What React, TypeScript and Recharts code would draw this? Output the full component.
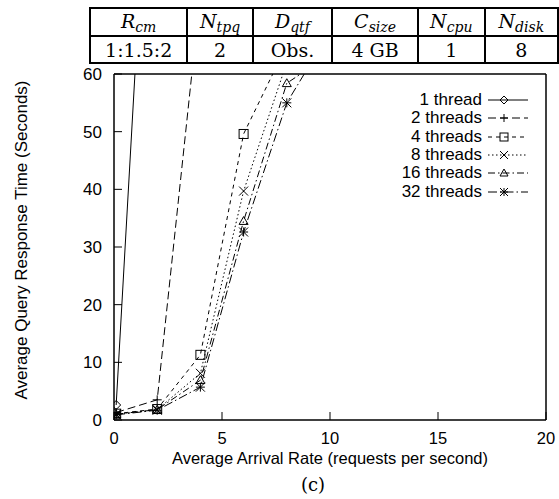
import React from "react";
import { Legend, Line, LineChart, XAxis, YAxis } from "recharts";

// arrival rates (requests per second) at which every run was measured
const rates = [0.1, 2, 4, 6, 8, 10];

// average response time (s) per thread count; values above 60 run off the plot
const oneThread = [2.6, 128];
const twoThreads = [1.3, 3.5, 74];
const fourThreads = [1.1, 1.9, 11.3, 49.6, 65];
const eightThreads = [1.0, 1.8, 8.1, 39.7, 62];
const sixteenThreads = [1.0, 1.8, 6.9, 34.5, 58.4, 63.4];
const thirtyTwoThreads = [0.9, 1.7, 5.7, 32.6, 55, 67.4];

const xTicks = [0, 5, 10, 15, 20];
const yTicks = [0, 10, 20, 30, 40, 50, 60];

// experiment parameters shown above the plot
const paramNames = [
  ["R", "cm"],
  ["N", "tpq"],
  ["D", "qtf"],
  ["C", "size"],
  ["N", "cpu"],
  ["N", "disk"],
];
const paramValues = ["1:1.5:2", "2", "Obs.", "4 GB", "1", "8"];
const colWidths = [96, 64, 78, 85, 65, 72];

type Shape = "diamond" | "plus" | "square" | "cross" | "triangle" | "star";

const series: { key: string; name: string; dash: string; shape: Shape }[] = [
  { key: "t1", name: "1 thread", dash: "", shape: "diamond" },
  { key: "t2", name: "2 threads", dash: "8 4", shape: "plus" },
  { key: "t4", name: "4 threads", dash: "4 4", shape: "square" },
  { key: "t8", name: "8 threads", dash: "1.5 2.5", shape: "cross" },
  { key: "t16", name: "16 threads", dash: "7 3 1.5 3", shape: "triangle" },
  { key: "t32", name: "32 threads", dash: "9 3 1.5 3", shape: "star" },
];

const data = rates.map((rate, i) => ({
  rate,
  t1: oneThread[i],
  t2: twoThreads[i],
  t4: fourThreads[i],
  t8: eightThreads[i],
  t16: sixteenThreads[i],
  t32: thirtyTwoThreads[i],
}));

const SANS = "'Liberation Sans', Arial, Helvetica, sans-serif";
const SERIF = "'DejaVu Serif', 'Liberation Serif', serif";

function Marker({ shape, cx, cy, s = 4.5 }: { shape: Shape; cx: number; cy: number; s?: number }) {
  const st = { stroke: "#000", strokeWidth: 1, fill: "none", strokeDasharray: "none" };
  const plus = `M${cx - s},${cy}H${cx + s}M${cx},${cy - s}V${cy + s}`;
  const cross = `M${cx - s},${cy - s}L${cx + s},${cy + s}M${cx - s},${cy + s}L${cx + s},${cy - s}`;
  switch (shape) {
    case "diamond":
      return <polygon points={`${cx},${cy - s} ${cx + s},${cy} ${cx},${cy + s} ${cx - s},${cy}`} {...st} />;
    case "plus":
      return <path d={plus} {...st} />;
    case "square":
      return <rect x={cx - s} y={cy - s} width={2 * s} height={2 * s} {...st} />;
    case "cross":
      return <path d={cross} {...st} />;
    case "triangle":
      return <polygon points={`${cx},${cy - s} ${cx + s},${cy + s * 0.75} ${cx - s},${cy + s * 0.75}`} {...st} />;
    default:
      return <path d={plus + cross} {...st} />;
  }
}

function ThreadLegend() {
  return (
    <div style={{ fontFamily: SANS, fontSize: 17, color: "#000" }}>
      {series.map((s) => (
        <div key={s.key} style={{ display: "flex", alignItems: "center", height: 18.3 }}>
          <span style={{ width: 112, textAlign: "right", lineHeight: "18px" }}>{s.name}</span>
          <svg width={46} height={18} style={{ marginLeft: 5 }}>
            <line x1={1} y1={9} x2={41} y2={9} stroke="#000" strokeWidth={1} strokeDasharray={s.dash || undefined} />
            <Marker shape={s.shape} cx={17} cy={9} s={4} />
          </svg>
        </div>
      ))}
    </div>
  );
}

function ParamTable() {
  const cell = { border: "2px solid #000", padding: 0, textAlign: "center" as const, height: 25 };
  return (
    <table
      style={{
        position: "absolute",
        left: 89,
        top: 7,
        borderCollapse: "collapse",
        fontFamily: SERIF,
        fontSize: 19,
        lineHeight: "24px",
        tableLayout: "fixed",
      }}
    >
      <tbody>
        <tr>
          {paramNames.map(([base, sub], i) => (
            <td key={i} style={{ ...cell, width: colWidths[i], fontStyle: "italic" }}>
              {base}
              <span style={{ fontSize: 14, position: "relative", top: 4 }}>{sub}</span>
            </td>
          ))}
        </tr>
        <tr>
          {paramValues.map((v, i) => (
            <td key={i} style={cell}>
              {v}
            </td>
          ))}
        </tr>
      </tbody>
    </table>
  );
}

export default function App() {
  const yTickStyle = { fontSize: 17, fill: "#000", fontFamily: SANS };
  const xTickStyle = { fontSize: 16.5, fill: "#000", fontFamily: SANS };
  const axisLine = { stroke: "#000", strokeWidth: 1.5 };
  return (
    <div style={{ position: "absolute", left: 0, top: 0, width: 559, height: 499, background: "#fff" }}>
      <ParamTable />
      <div style={{ position: "absolute", left: 0, top: 0 }}>
        <LineChart width={559} height={499} data={data} margin={{ top: 64, right: 3, bottom: 49, left: 54 }}>
          <XAxis
            dataKey="rate"
            type="number"
            domain={[0, 20]}
            ticks={xTicks}
            allowDataOverflow
            height={30}
            tickSize={-8}
            tickMargin={20}
            tick={xTickStyle}
            tickLine={{ stroke: "#000" }}
            axisLine={axisLine}
          />
          <XAxis
            xAxisId="top"
            orientation="top"
            type="number"
            domain={[0, 20]}
            ticks={xTicks}
            height={10}
            tickSize={-8}
            tick={false}
            tickLine={{ stroke: "#000" }}
            axisLine={axisLine}
          />
          <YAxis
            type="number"
            domain={[0, 60]}
            ticks={yTicks}
            allowDataOverflow
            width={60}
            tickSize={-8}
            tickMargin={20}
            tick={yTickStyle}
            tickLine={{ stroke: "#000" }}
            axisLine={axisLine}
          />
          <YAxis
            yAxisId="right"
            orientation="right"
            type="number"
            domain={[0, 60]}
            ticks={yTicks}
            width={10}
            tickSize={-8}
            tick={false}
            tickLine={{ stroke: "#000" }}
            axisLine={axisLine}
          />
          <Legend
            layout="horizontal"
            verticalAlign="middle"
            align="center"
            wrapperStyle={{ left: 370, top: 91, width: 170 }}
            content={() => <ThreadLegend />}
          />
          {series.map((s) => (
            <Line
              key={s.key}
              dataKey={s.key}
              name={s.name}
              type="linear"
              stroke="#000"
              strokeWidth={1}
              strokeDasharray={s.dash || undefined}
              isAnimationActive={false}
              dot={(p: any) =>
                p.cx == null || p.cy == null || p.value == null ? (
                  <g key={`${s.key}-${p.index}`} />
                ) : (
                  <g key={`${s.key}-${p.index}`}>
                    <Marker shape={s.shape} cx={p.cx} cy={p.cy} />
                  </g>
                )
              }
              activeDot={false}
            />
          ))}
        </LineChart>
      </div>
      <div
        style={{
          position: "absolute",
          left: 22 - 175,
          top: 240 - 10,
          width: 350,
          height: 20,
          lineHeight: "20px",
          textAlign: "center",
          transform: "rotate(-90deg)",
          fontFamily: SANS,
          fontSize: 17,
        }}
      >
        Average Query Response Time (Seconds)
      </div>
      <div
        style={{
          position: "absolute",
          left: 130,
          top: 448,
          width: 400,
          lineHeight: "20px",
          textAlign: "center",
          fontFamily: SANS,
          fontSize: 16.5,
        }}
      >
        Average Arrival Rate (requests per second)
      </div>
      <div
        style={{
          position: "absolute",
          left: 263,
          top: 474,
          width: 100,
          lineHeight: "22px",
          textAlign: "center",
          fontFamily: SERIF,
          fontSize: 18,
        }}
      >
        (c)
      </div>
    </div>
  );
}
